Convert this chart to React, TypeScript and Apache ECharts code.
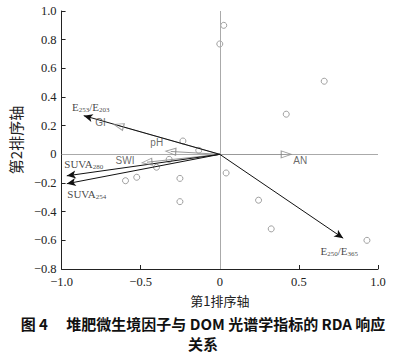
import React, { useEffect, useRef } from "react";
import * as echarts from "echarts";

// Sample (site) scores
const siteX = [0.025, 0.0, 0.66, 0.42, -0.233, -0.133, -0.32, -0.4, 0.04, -0.525, -0.596, -0.252, -0.252, 0.245, 0.325, 0.93];
const siteY = [0.9, 0.77, 0.51, 0.28, 0.093, 0.028, -0.035, -0.09, -0.13, -0.16, -0.184, -0.168, -0.33, -0.32, -0.52, -0.6];

// Response variables (DOM spectral indices) — black arrows
const respNames = ["E253/E203", "SUVA280", "SUVA254", "E250/E365"];
const respX = [-0.86, -0.967, -0.967, 0.78];
const respY = [0.27, -0.15, -0.205, -0.585];

// Explanatory variables (micro-environment factors) — grey hollow arrows
const envNames = ["GI", "pH", "SWI", "AN"];
const envX = [-0.64, -0.31, -0.46, 0.42];
const envY = [0.2, 0.02, -0.055, 0];

// Axis ticks
const xTicks = [-1.0, -0.5, 0, 0.5, 1.0];
const yTicks = [-0.8, -0.6, -0.4, -0.2, 0, 0.2, 0.4, 0.6, 0.8, 1.0];

// label rich formats and offsets (styling only)
const respLabel: Record<string, string> = {
  "E253/E203": "{m|E}{s|253}{m|/E}{s|203}",
  SUVA280: "{m|SUVA}{s|280}",
  SUVA254: "{m|SUVA}{s|254}",
  "E250/E365": "{m|E}{s|250}{m|/E}{s|365}",
};
const respOffset: Record<string, number[]> = {
  "E253/E203": [7, -10],
  SUVA280: [17, -13],
  SUVA254: [20, 9],
  "E250/E365": [-4, 12],
};
const envOffset: Record<string, number[]> = {
  GI: [-18, -3],
  pH: [-14, -9],
  SWI: [-22, -2],
  AN: [14, 6],
};

const fmt = (v: number) => {
  if (Math.abs(v) < 1e-9) return "0";
  return (v < 0 ? "\u2212" : "") + Math.abs(v).toFixed(1);
};

export default function App() {
  const ref = useRef<HTMLDivElement>(null);
  useEffect(() => {
    if (!ref.current) return;
    const chart = echarts.init(ref.current, null, { renderer: "svg" });
    const gridW = 320;
    const gridH = 258;
    const xMin = xTicks[0], xMax = xTicks[xTicks.length - 1];
    const yMin = yTicks[0], yMax = yTicks[yTicks.length - 1];
    const pxX = gridW / (xMax - xMin);
    const pxY = gridH / (yMax - yMin);

    const serif = "'Liberation Serif', 'DejaVu Serif', serif";
    const sans = "'Liberation Sans', Arial, sans-serif";
    const cjk = "'Noto Sans CJK SC', sans-serif";

    const rich = {
      m: { fontFamily: serif, fontSize: 11, color: "#111", verticalAlign: "bottom", lineHeight: 13 },
      s: { fontFamily: serif, fontSize: 7, color: "#111", verticalAlign: "bottom", lineHeight: 10, padding: [0, 0, -1, 0] },
    };

    const option: any = {
      animation: false,
      grid: { left: 58, top: 11, width: gridW, height: gridH, containLabel: false },
      xAxis: {
        type: "value",
        min: xMin,
        max: xMax,
        interval: 0.5,
        name: "第1排序轴",
        nameLocation: "middle",
        nameGap: 25,
        nameTextStyle: { fontFamily: cjk, fontSize: 13, color: "#222" },
        axisLine: { onZero: false, lineStyle: { color: "#222", width: 1 } },
        axisTick: { inside: true, length: 4, lineStyle: { color: "#222" } },
        axisLabel: { formatter: fmt, fontFamily: serif, fontSize: 12.5, color: "#222", margin: 6 },
        splitLine: { show: false },
      },
      yAxis: {
        type: "value",
        min: yMin,
        max: yMax,
        interval: 0.2,
        name: "第2排序轴",
        nameLocation: "middle",
        nameGap: 28,
        nameRotate: 90,
        nameTextStyle: { fontFamily: cjk, fontSize: 15, color: "#222" },
        axisLine: { onZero: false, lineStyle: { color: "#222", width: 1 } },
        axisTick: { inside: true, length: 4, lineStyle: { color: "#222" } },
        axisLabel: { formatter: fmt, fontFamily: serif, fontSize: 12.5, color: "#222", margin: 5 },
        splitLine: { show: false },
      },
      series: [
        {
          type: "scatter",
          z: 1,
          data: [],
          silent: true,
          markLine: {
            silent: true,
            symbol: "none",
            label: { show: false },
            lineStyle: { color: "#aaa", width: 1, type: "solid" },
            data: [{ xAxis: 0 }, { yAxis: 0 }],
          },
        },
        {
          type: "scatter",
          z: 2,
          data: [],
          silent: true,
          markLine: {
            silent: true,
            symbol: "none",
            label: { show: false },
            lineStyle: { color: "#999", width: 1, type: "solid" },
            data: envNames.map((n, i) => [{ coord: [0, 0] }, { coord: [envX[i], envY[i]] }]),
          },
        },
        {
          type: "scatter",
          z: 4,
          data: [],
          silent: true,
          markLine: {
            silent: true,
            symbol: ["none", "arrow"],
            symbolSize: [6, 9],
            label: { show: false },
            lineStyle: { color: "#111", width: 1, type: "solid" },
            data: respNames.map((n, i) => [{ coord: [0, 0] }, { coord: [respX[i], respY[i]] }]),
          },
        },
        {
          type: "scatter",
          z: 3,
          symbol: "circle",
          symbolSize: 6,
          itemStyle: { color: "rgba(255,255,255,0)", borderColor: "#888", borderWidth: 1 },
          data: siteX.map((x, i) => [x, siteY[i]]),
        },
        {
          type: "scatter",
          z: 5,
          symbol: "triangle",
          symbolSize: [7, 10],
          itemStyle: { color: "rgba(255,255,255,0)", borderColor: "#888", borderWidth: 1 },
          data: envNames.map((n, i) => {
            const ang = (Math.atan2(envY[i] * pxY, envX[i] * pxX) * 180) / Math.PI;
            return {
              name: n,
              value: [envX[i], envY[i]],
              symbolRotate: ang - 90,
              label: {
                show: true,
                position: "inside",
                offset: envOffset[n],
                formatter: n,
                fontFamily: sans,
                fontSize: 10,
                color: "#444",
              },
            };
          }),
        },
        {
          type: "scatter",
          z: 6,
          symbolSize: 0,
          data: respNames.map((n, i) => ({
            name: n,
            value: [respX[i], respY[i]],
            label: {
              show: true,
              position: "inside",
              offset: respOffset[n],
              formatter: respLabel[n],
              rich,
            },
          })),
        },
      ],
      graphic: [
        {
          type: "text",
          left: "center",
          top: 316,
          style: {
            text: "图 4\u2003 堆肥微生境因子与 DOM 光谱学指标的 RDA 响应",
            font: "bold 15px 'Noto Sans CJK SC', sans-serif",
            fill: "#111",
          },
        },
        {
          type: "text",
          left: "center",
          top: 336,
          style: {
            text: "关系",
            font: "bold 15px 'Noto Sans CJK SC', sans-serif",
            fill: "#111",
          },
        },
      ],
    };
    chart.setOption(option);
    return () => chart.dispose();
  }, []);
  return (
    <div
      ref={ref}
      style={{ position: "fixed", left: 0, top: 0, width: 406, height: 354, background: "#fff" }}
    />
  );
}
